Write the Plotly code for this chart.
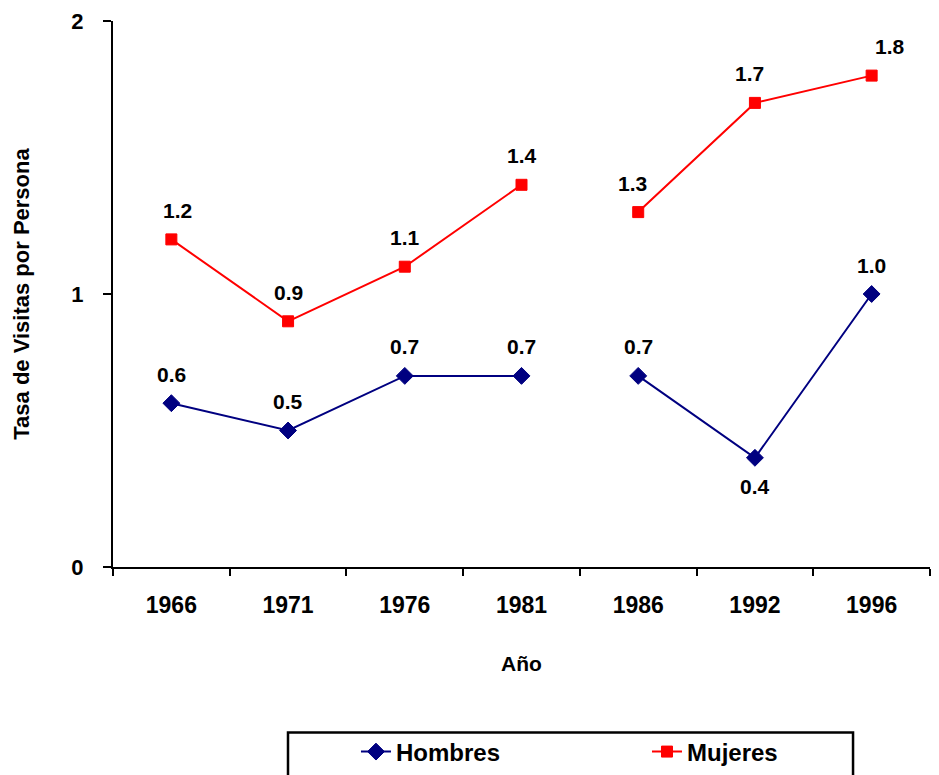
import plotly.graph_objects as go

years = ["1966", "1971", "1976", "1981", "1986", "1992", "1996"]
hombres = [0.6, 0.5, 0.7, 0.7, 0.7, 0.4, 1.0]
mujeres = [1.2, 0.9, 1.1, 1.4, 1.3, 1.7, 1.8]

# the series are drawn as two pieces: 1966-1981 and 1986-1996
split_at = 4

FONT = "Liberation Sans, Arial, sans-serif"
NAVY = "#000080"
RED = "#ff0000"

series = [
    ("Hombres", hombres, NAVY, "diamond", 13, "legend"),
    ("Mujeres", mujeres, RED, "square", 11, "legend2"),
]

fig = go.Figure()
for name, vals, color, symbol, size, leg in series:
    for i, (a, b) in enumerate([(0, split_at), (split_at, len(years))]):
        fig.add_trace(go.Scatter(
            x=years[a:b], y=vals[a:b], name=name, legendgroup=name, legend=leg,
            showlegend=(i == 0), mode="lines+markers",
            line=dict(color=color, width=2),
            marker=dict(symbol=symbol, size=size, color=color,
                        line=dict(color=color, width=1)),
        ))

# point labels (x given as category index so "1966" isn't read as a number)
below = {("Hombres", "1992")}
xshift = {("Mujeres", "1996"): 18, ("Mujeres", "1986"): -6, ("Mujeres", "1992"): -5,
          ("Mujeres", "1966"): 6}
for name, vals, *_ in series:
    for i, (yr, v) in enumerate(zip(years, vals)):
        fig.add_annotation(
            x=i, y=v, text=f"{v:.1f}", showarrow=False,
            yshift=-29 if (name, yr) in below else 29,
            xshift=xshift.get((name, yr), 0),
            font=dict(family=FONT, size=21, color="black", weight="bold"),
        )

# legend frame
fig.add_shape(type="rect", xref="paper", yref="paper",
              x0=0.2142, x1=0.9058, y0=-0.303, y1=-0.45,
              line=dict(color="black", width=2.5), fillcolor="rgba(0,0,0,0)")

legend_style = dict(
    orientation="h", xanchor="left", yref="container", y=0.030, yanchor="middle",
    font=dict(family=FONT, size=24, color="black", weight="bold"),
    bgcolor="rgba(0,0,0,0)",
)
# page body adds an 8px offset, so the figure is 8px smaller than the window
fig.update_layout(
    width=931, height=767,
    margin=dict(l=105, r=9, t=13, b=208),
    paper_bgcolor="white", plot_bgcolor="white",
    font=dict(family=FONT, color="black"),
    showlegend=True,
    legend=dict(x=0.2974, **legend_style),
    legend2=dict(x=0.6536, **legend_style),
)
fig.update_xaxes(
    type="category", range=[-0.5, 6.5], automargin=False,
    showline=True, linecolor="black", linewidth=2,
    ticks="outside", tickson="boundaries", ticklen=7, tickwidth=2, tickcolor="black",
    ticklabelstandoff=16,
    tickfont=dict(family=FONT, size=23, color="black", weight="bold"),
    showgrid=False, zeroline=False,
    title=dict(text="Año", standoff=40,
               font=dict(family=FONT, size=21, color="black", weight="bold")),
)
fig.update_yaxes(
    range=[0, 2], tickvals=[0, 1, 2], automargin=False, ticklabeloverflow="allow",
    showline=True, linecolor="black", linewidth=2,
    ticks="outside", ticklen=8, tickwidth=2, tickcolor="black",
    ticklabelstandoff=15,
    tickfont=dict(family=FONT, size=22, color="black", weight="bold"),
    showgrid=False, zeroline=False,
    title=dict(text="Tasa de Visitas por Persona", standoff=36,
               font=dict(family=FONT, size=22, color="black", weight="bold")),
)

fig.write_html("out.html")
